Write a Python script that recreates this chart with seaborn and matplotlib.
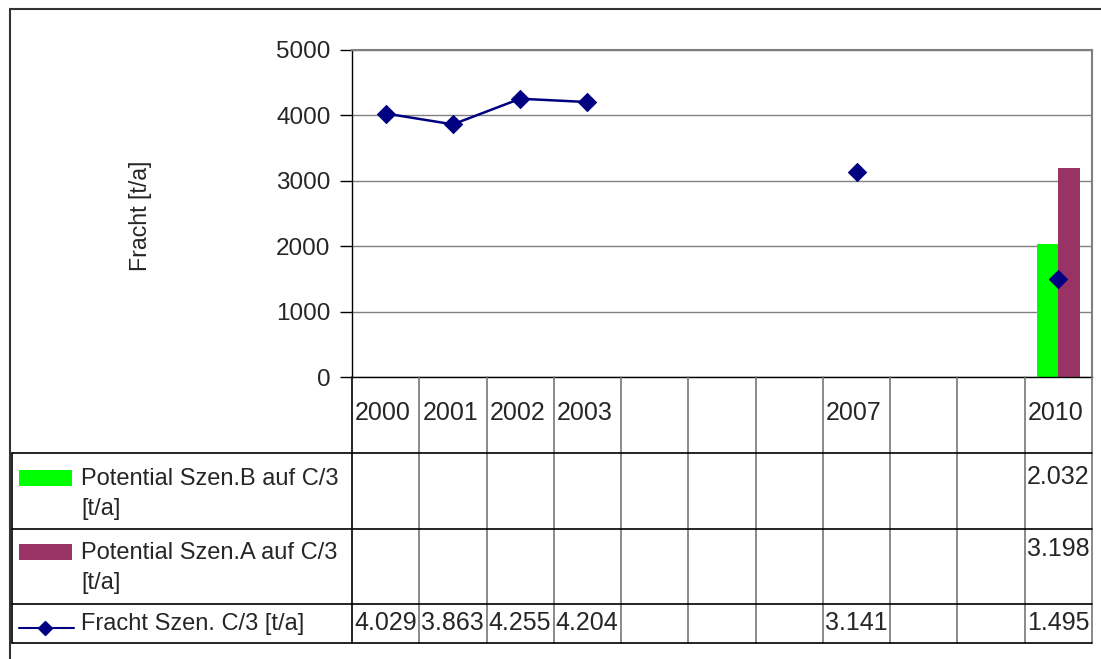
import numpy as np
import pandas as pd
import matplotlib
matplotlib.use("Agg")
import matplotlib.pyplot as plt
import seaborn as sns
from matplotlib.lines import Line2D
from matplotlib.patches import Rectangle

# ---- data ----
years = ["2000", "2001", "2002", "2003", "", "", "", "2007", "", "", "2010"]
pot_b = [np.nan] * 10 + [2032]
pot_a = [np.nan] * 10 + [3198]
fracht = [4029, 3863, 4255, 4204, np.nan, np.nan, np.nan, 3141, np.nan, np.nan, 1495]
series_names = ["Potential Szen.B auf C/3\n[t/a]", "Potential Szen.A auf C/3\n[t/a]", "Fracht Szen. C/3 [t/a]"]
yticks = [0, 1000, 2000, 3000, 4000, 5000]
colors = ["#00FF00", "#993366", "#000080"]

sns.set_theme(style="white")
plt.rcParams['font.family'] = ['Liberation Sans', 'DejaVu Sans']

W, H = 1101, 659
fig = plt.figure(figsize=(W / 100, H / 100), dpi=100)

# pixel geometry
L, R, T, B = 352, 1092, 50, 377
ax = fig.add_axes([L / W, 1 - B / H, (R - L) / W, (B - T) / H])

cats = [f"c{i}" for i in range(len(years))]
df = pd.DataFrame({
    "cat": cats * 2,
    "series": ["B"] * len(cats) + ["A"] * len(cats),
    "value": pot_b + pot_a,
})
sns.barplot(data=df, x="cat", y="value", hue="series", order=cats, hue_order=["B", "A"],
            palette=colors[:2], width=0.63, dodge=True, legend=False, ax=ax,
            saturation=1, linewidth=0, errorbar=None)

xpos = np.arange(len(years))
ax.plot(xpos, fracht, color=colors[2], lw=1.8, zorder=3)
sns.scatterplot(x=xpos, y=fracht, marker="D", s=85, color=colors[2], edgecolor=colors[2],
                zorder=4, ax=ax, legend=False)

ax.set_xlim(-0.5, len(years) - 0.5)
ax.set_ylim(0, 5000)
ax.set_yticks(yticks)
ax.set_yticklabels([str(v) for v in yticks], fontsize=17.5)
ax.set_xticks([])
ax.set_xlabel("")
ax.set_ylabel("")
ax.yaxis.grid(True, color="#808080", lw=1)
ax.set_axisbelow(True)
ax.tick_params(axis="y", length=9, width=1, color="black", direction="out", pad=6.5, left=True)
for s in ["left", "bottom"]:
    ax.spines[s].set_color("black")
    ax.spines[s].set_linewidth(1)
for s in ["top", "right"]:
    ax.spines[s].set_color("#808080")
    ax.spines[s].set_linewidth(1.5)

# overlay in pixel coordinates for the table
ov = fig.add_axes([0, 0, 1, 1], facecolor="none")
ov.set_xlim(0, W)
ov.set_ylim(H, 0)
ov.axis("off")

# outer frame (left & top)
ov.add_line(Line2D([9.5, 9.5], [9, H], color="#333333", lw=1.5))
ov.add_line(Line2D([9.5, W], [9, 9], color="#333333", lw=1.5))

ov.text(141, 216, "Fracht [t/a]", rotation=90, ha="center", va="center", fontsize=16.7)

n = len(years)
cw = (R - L) / n
rows = [B, 453, 529, 604, 643]
# verticals
for k in range(n + 1):
    x = L + k * cw
    ov.add_line(Line2D([x, x], [B, 643], color="#777777" if k else "black", lw=1.2))
ov.add_line(Line2D([12, 12], [453, 643], color="black", lw=1.2))
for y in rows[1:]:
    ov.add_line(Line2D([12, R], [y, y], color="black", lw=1.2))

fs_num = 18
fs_leg = 17
for k, yr in enumerate(years):
    if yr:
        ov.text(L + k * cw + 3, 413, yr, ha="left", va="center", fontsize=fs_num)

def fmt(v):
    return f"{v / 1000:.3f}"

for k in range(n):
    x = L + k * cw + 2
    if not np.isnan(pot_b[k]):
        ov.text(x, 476.5, fmt(pot_b[k]), ha="left", va="center", fontsize=fs_num)
    if not np.isnan(pot_a[k]):
        ov.text(x, 549.5, fmt(pot_a[k]), ha="left", va="center", fontsize=fs_num)
    if not np.isnan(fracht[k]):
        ov.text(x, 623.5, fmt(fracht[k]), ha="left", va="center", fontsize=fs_num)

# legend keys
ov.add_patch(Rectangle((19, 470), 53, 16, color=colors[0], lw=0))
ov.add_patch(Rectangle((19, 544), 53, 16, color=colors[1], lw=0))
ov.add_line(Line2D([19, 74], [628, 628], color=colors[2], lw=1.5))
ov.add_line(Line2D([45], [628], marker="D", ms=7.5, color=colors[2], lw=0))

ov.text(81, 494, series_names[0], ha="left", va="center", fontsize=fs_leg, linespacing=1.5)
ov.text(81, 568, series_names[1], ha="left", va="center", fontsize=fs_leg, linespacing=1.5)
ov.text(81, 624, series_names[2], ha="left", va="center", fontsize=fs_leg)

fig.savefig("out.png", dpi=100, facecolor="white")
